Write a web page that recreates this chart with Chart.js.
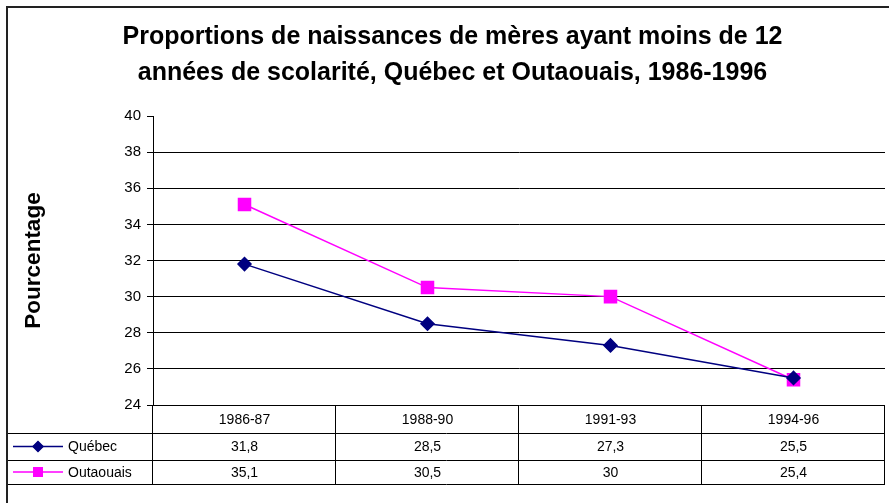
<!DOCTYPE html>
<html>
<head>
<meta charset="utf-8">
<script src="https://cdn.jsdelivr.net/npm/chart.js"></script>
<style>
  html, body { margin: 0; padding: 0; background: #fff; }
  #chart { display: block; }
</style>
</head>
<body>
<canvas id="chart" width="889" height="503"></canvas>
<script>
// data
const periods = ['1986-87', '1988-90', '1991-93', '1994-96'];
const quebec = [31.8, 28.5, 27.3, 25.5];
const outaouais = [35.1, 30.5, 30, 25.4];
const yMin = 24, yMax = 40, yStep = 2;

const titleLines = [
  'Proportions de naissances de mères ayant moins de 12',
  'années de scolarité, Québec et Outaouais, 1986-1996'
];

const FONT = '"Liberation Sans", Arial, sans-serif';
const fmt = v => String(v).replace('.', ',');

// draws the data table under the plot + outer frame
const dataTable = {
  id: 'dataTable',
  afterDraw(chart) {
    const { ctx, chartArea: a, scales: { x } } = chart;
    const n = periods.length;
    const colW = a.width / n;
    const left = 8;
    const rows = [a.bottom, a.bottom + 28, a.bottom + 55, a.bottom + 79];
    ctx.save();
    ctx.lineWidth = 1;
    ctx.strokeStyle = '#000';
    // horizontal lines
    ctx.beginPath();
    for (let r = 1; r < rows.length; r++) {
      ctx.moveTo(left, Math.round(rows[r]) + 0.5);
      ctx.lineTo(a.right, Math.round(rows[r]) + 0.5);
    }
    // vertical lines
    for (let i = 0; i <= n; i++) {
      const px = Math.round(a.left + i * colW) - 0.5;
      ctx.moveTo(px, rows[0]);
      ctx.lineTo(px, Math.round(rows[3]) + 1);
    }
    ctx.stroke();

    ctx.fillStyle = '#000';
    ctx.textAlign = 'center';
    ctx.textBaseline = 'middle';
    ctx.font = '14px ' + FONT;
    periods.forEach((p, i) => {
      const cx = x.getPixelForValue(i);
      ctx.fillText(p, cx, (rows[0] + rows[1]) / 2 + 1);
      ctx.fillText(fmt(quebec[i]), cx, (rows[1] + rows[2]) / 2 + 1);
      ctx.fillText(fmt(outaouais[i]), cx, (rows[2] + rows[3]) / 2 + 1);
    });

    // legend keys in the first column
    chart.data.datasets.forEach((ds, k) => {
      const cy = (rows[k + 1] + rows[k + 2]) / 2;
      ctx.strokeStyle = ds.borderColor;
      ctx.lineWidth = 1.5;
      ctx.beginPath();
      ctx.moveTo(13, cy);
      ctx.lineTo(63, cy);
      ctx.stroke();
      Chart.helpers.drawPoint(ctx, {
        pointStyle: ds.pointStyle,
        radius: k === 0 ? 5 : 6,
        borderWidth: 1
      }, 38, cy);
      ctx.fillStyle = ds.pointBackgroundColor;
      ctx.strokeStyle = ds.pointBorderColor;
      ctx.fill();
      ctx.fillStyle = '#000';
      ctx.textAlign = 'left';
      ctx.fillText(ds.label, 68, cy + 1);
    });

    // outer chart frame (right/bottom edges fall outside the picture)
    ctx.strokeStyle = '#222';
    ctx.lineWidth = 2;
    ctx.strokeRect(7, 7, 900, 520);
    ctx.restore();
  }
};

new Chart(document.getElementById('chart'), {
  type: 'line',
  data: {
    labels: periods,
    datasets: [
      {
        label: 'Québec',
        data: quebec,
        borderColor: '#000080',
        backgroundColor: '#000080',
        pointBackgroundColor: '#000080',
        pointBorderColor: '#000080',
        pointStyle: 'rectRot',
        pointRadius: 6.5,
        borderWidth: 1.5,
        tension: 0
      },
      {
        label: 'Outaouais',
        data: outaouais,
        borderColor: '#ff00ff',
        backgroundColor: '#ff00ff',
        pointBackgroundColor: '#ff00ff',
        pointBorderColor: '#ff00ff',
        pointStyle: 'rect',
        pointRadius: 8.5,
        borderWidth: 1.5,
        tension: 0
      }
    ]
  },
  options: {
    responsive: false,
    devicePixelRatio: 1,
    animation: false,
    layout: { autoPadding: false, padding: { left: 20, right: 4, top: 8, bottom: 98 } },
    plugins: {
      legend: { display: false },
      tooltip: { enabled: false },
      title: {
        display: true,
        text: titleLines,
        color: '#000',
        font: { family: FONT, size: 25, weight: 'bold', lineHeight: 1.44 },
        padding: { top: 11, bottom: 25 }
      }
    },
    scales: {
      x: {
        display: false,
        offset: true
      },
      y: {
        min: yMin,
        max: yMax,
        afterFit(scale) { scale.width = 133; },
        ticks: {
          stepSize: yStep,
          color: '#000',
          padding: 6,
          font: { family: FONT, size: 15 }
        },
        grid: {
          color: c => (c.tick && c.tick.value === yMax) ? 'rgba(0,0,0,0)' : '#000',
          tickColor: '#000',
          tickLength: 6,
          lineWidth: 1
        },
        border: { display: true, color: '#000', width: 1 },
        title: {
          display: true,
          text: 'Pourcentage',
          color: '#000',
          font: { family: FONT, size: 22.5, weight: 'bold' },
          padding: { top: 0, bottom: 0 }
        }
      }
    }
  },
  plugins: [dataTable]
});
</script>
</body>
</html>
